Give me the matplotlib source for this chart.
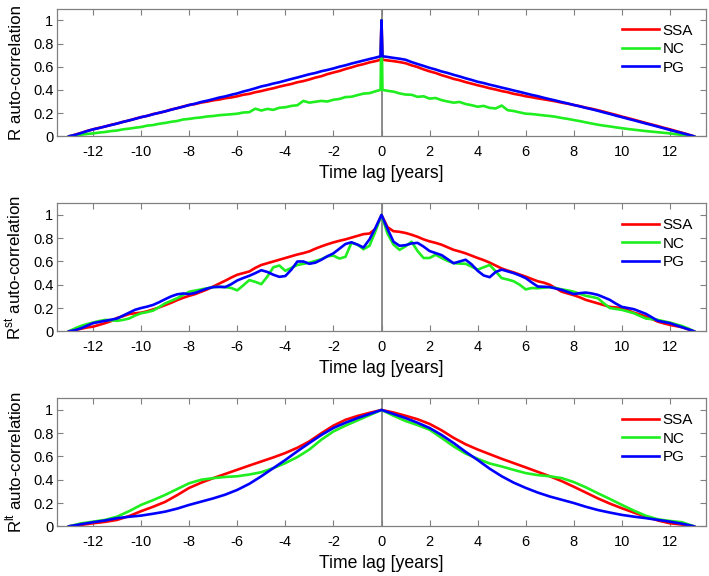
import numpy as np
import matplotlib
matplotlib.use("Agg")
import matplotlib.pyplot as plt

plt.rcParams['font.family'] = ['Liberation Sans', 'DejaVu Sans']
plt.rcParams['mathtext.fontset'] = 'custom'
plt.rcParams['mathtext.rm'] = 'Liberation Sans'

# ---------------- data ----------------
series_names = ["SSA", "NC", "PG"]
series_colors = ["#ff0000", "#1fee1f", "#0000ff"]

# Panel 1 (raw R): lags in years, 0.25-year steps plus the lag-0 spike
lags_r = ([-13 + 0.25 * i for i in range(52)] + [-0.04, 0.0, 0.04]
          + [0.25 + 0.25 * i for i in range(52)])

r_ssa = [0.000, 0.014, 0.029, 0.046, 0.060, 0.073, 0.084, 0.099,
         0.110, 0.125, 0.136, 0.152, 0.165, 0.176, 0.192, 0.202,
         0.215, 0.231, 0.242, 0.257, 0.270, 0.278, 0.291, 0.299,
         0.310, 0.317, 0.328, 0.335, 0.345, 0.358, 0.366, 0.380,
         0.390, 0.403, 0.414, 0.428, 0.440, 0.451, 0.466, 0.476,
         0.490, 0.506, 0.518, 0.536, 0.550, 0.563, 0.580, 0.594,
         0.610, 0.622, 0.637, 0.648,
         0.660, 1.000, 0.660,
         0.654, 0.648, 0.640,
         0.630, 0.612, 0.597, 0.577, 0.560, 0.546, 0.527, 0.512,
         0.495, 0.483, 0.467, 0.454, 0.440, 0.428, 0.414, 0.403,
         0.390, 0.380, 0.366, 0.357, 0.345, 0.337, 0.327, 0.319,
         0.310, 0.301, 0.290, 0.281, 0.270, 0.260, 0.247, 0.237,
         0.225, 0.212, 0.198, 0.185, 0.170, 0.157, 0.143, 0.129,
         0.115, 0.101, 0.088, 0.073, 0.060, 0.045, 0.031, 0.016,
         0.000]

r_nc = [0.000, 0.008, 0.014, 0.020, 0.025, 0.032, 0.037, 0.045,
        0.050, 0.060, 0.066, 0.074, 0.080, 0.092, 0.097, 0.108,
        0.115, 0.125, 0.132, 0.145, 0.150, 0.158, 0.163, 0.171,
        0.175, 0.182, 0.186, 0.190, 0.195, 0.205, 0.208, 0.238,
        0.222, 0.236, 0.228, 0.246, 0.250, 0.262, 0.268, 0.305,
        0.290, 0.298, 0.305, 0.300, 0.315, 0.322, 0.338, 0.341,
        0.355, 0.368, 0.372, 0.388,
        0.400, 1.000, 0.400,
        0.392, 0.385, 0.370,
        0.360, 0.358, 0.340, 0.345, 0.325, 0.330, 0.312, 0.300,
        0.290, 0.296, 0.278, 0.268, 0.255, 0.262, 0.245, 0.240,
        0.265, 0.225, 0.218, 0.206, 0.195, 0.192, 0.186, 0.180,
        0.175, 0.168, 0.158, 0.150, 0.140, 0.131, 0.120, 0.110,
        0.100, 0.092, 0.085, 0.077, 0.070, 0.063, 0.057, 0.051,
        0.045, 0.040, 0.035, 0.030, 0.025, 0.018, 0.012, 0.006,
        0.000]

r_pg = [0.000, 0.012, 0.028, 0.045, 0.060, 0.071, 0.085, 0.097,
        0.110, 0.124, 0.137, 0.150, 0.165, 0.176, 0.190, 0.203,
        0.215, 0.229, 0.243, 0.255, 0.270, 0.281, 0.296, 0.307,
        0.320, 0.334, 0.344, 0.358, 0.370, 0.386, 0.399, 0.414,
        0.430, 0.441, 0.455, 0.466, 0.480, 0.494, 0.507, 0.521,
        0.535, 0.546, 0.561, 0.572, 0.585, 0.600, 0.612, 0.627,
        0.640, 0.653, 0.666, 0.678,
        0.690, 1.000, 0.690,
        0.684, 0.676, 0.669,
        0.660, 0.640, 0.623, 0.607, 0.590, 0.576, 0.559, 0.546,
        0.530, 0.516, 0.500, 0.486, 0.470, 0.459, 0.445, 0.433,
        0.420, 0.408, 0.395, 0.383, 0.370, 0.357, 0.346, 0.332,
        0.320, 0.308, 0.295, 0.283, 0.270, 0.258, 0.245, 0.233,
        0.220, 0.206, 0.193, 0.178, 0.165, 0.151, 0.138, 0.124,
        0.110, 0.097, 0.083, 0.069, 0.055, 0.041, 0.028, 0.014,
        0.000]

# Panel 2 (short-term R^st): 0.25-year steps
lags_st = [-13 + 0.25 * i for i in range(105)]

st_ssa = [0.000, 0.010, 0.022, 0.033, 0.040, 0.055, 0.070, 0.088,
          0.115, 0.130, 0.148, 0.155, 0.160, 0.172, 0.188, 0.205,
          0.225, 0.245, 0.268, 0.288, 0.305, 0.320, 0.340, 0.360,
          0.385, 0.410, 0.435, 0.462, 0.486, 0.500, 0.514, 0.545,
          0.570, 0.585, 0.600, 0.615, 0.630, 0.645, 0.660, 0.672,
          0.687, 0.710, 0.730, 0.748, 0.764, 0.778, 0.790, 0.805,
          0.820, 0.835, 0.840, 0.880,
          1.000,
          0.895, 0.860, 0.855,
          0.845, 0.830, 0.812, 0.790, 0.773, 0.760, 0.744, 0.722,
          0.700, 0.686, 0.670, 0.650, 0.630, 0.612, 0.590, 0.565,
          0.540, 0.522, 0.506, 0.488, 0.470, 0.450, 0.430, 0.418,
          0.400, 0.370, 0.340, 0.325, 0.310, 0.292, 0.270, 0.255,
          0.240, 0.225, 0.210, 0.205, 0.200, 0.180, 0.160, 0.145,
          0.126, 0.105, 0.083, 0.068, 0.055, 0.045, 0.035, 0.018,
          0.000]

st_nc = [0.000, 0.025, 0.046, 0.062, 0.075, 0.088, 0.098, 0.095,
         0.090, 0.098, 0.110, 0.135, 0.155, 0.165, 0.178, 0.208,
         0.240, 0.262, 0.284, 0.312, 0.340, 0.350, 0.360, 0.370,
         0.380, 0.382, 0.380, 0.372, 0.352, 0.395, 0.440, 0.425,
         0.405, 0.470, 0.550, 0.565, 0.520, 0.545, 0.570, 0.580,
         0.590, 0.605, 0.620, 0.645, 0.650, 0.625, 0.640, 0.760,
         0.745, 0.705, 0.735, 0.860,
         1.000,
         0.840, 0.745, 0.700,
         0.730, 0.770, 0.690, 0.630, 0.630, 0.658, 0.630, 0.605,
         0.586, 0.582, 0.580, 0.555, 0.530, 0.550, 0.570, 0.515,
         0.457, 0.445, 0.430, 0.400, 0.360, 0.372, 0.370, 0.375,
         0.380, 0.372, 0.360, 0.352, 0.340, 0.322, 0.305, 0.295,
         0.284, 0.240, 0.200, 0.192, 0.184, 0.170, 0.155, 0.132,
         0.110, 0.104, 0.098, 0.086, 0.075, 0.060, 0.046, 0.025,
         0.000]

st_pg = [0.000, 0.010, 0.026, 0.048, 0.070, 0.080, 0.090, 0.100,
         0.110, 0.135, 0.160, 0.185, 0.200, 0.212, 0.227, 0.250,
         0.276, 0.300, 0.318, 0.325, 0.320, 0.330, 0.350, 0.368,
         0.380, 0.382, 0.380, 0.405, 0.437, 0.458, 0.477, 0.500,
         0.525, 0.510, 0.486, 0.468, 0.475, 0.530, 0.600, 0.600,
         0.580, 0.590, 0.615, 0.645, 0.670, 0.710, 0.750, 0.765,
         0.745, 0.720, 0.790, 0.890,
         1.000,
         0.880, 0.770, 0.735,
         0.740, 0.755, 0.760, 0.728, 0.690, 0.672, 0.655, 0.620,
         0.585, 0.600, 0.615, 0.575, 0.520, 0.480, 0.465, 0.510,
         0.530, 0.515, 0.500, 0.480, 0.457, 0.420, 0.385, 0.383,
         0.380, 0.368, 0.356, 0.338, 0.320, 0.328, 0.333, 0.325,
         0.313, 0.292, 0.270, 0.238, 0.210, 0.200, 0.190, 0.170,
         0.150, 0.120, 0.090, 0.080, 0.070, 0.052, 0.035, 0.018,
         0.000]

# Panel 3 (long-term R^lt): 0.5-year steps
lags_lt = [-13 + 0.5 * i for i in range(53)]

lt_ssa = [0.000, 0.012, 0.026, 0.038, 0.055, 0.088, 0.130, 0.168, 0.210,
          0.268, 0.330, 0.375, 0.414, 0.450, 0.486, 0.522, 0.557, 0.592,
          0.630, 0.675, 0.730, 0.800, 0.865, 0.915, 0.948, 0.975,
          1.000,
          0.978, 0.950, 0.920, 0.880, 0.825, 0.760, 0.705, 0.660, 0.620,
          0.580, 0.543, 0.506, 0.468, 0.430, 0.388, 0.340, 0.290, 0.240,
          0.195, 0.155, 0.118, 0.083, 0.050, 0.026, 0.015, 0.000]

lt_nc = [0.000, 0.025, 0.040, 0.055, 0.083, 0.130, 0.184, 0.225, 0.270,
         0.320, 0.370, 0.400, 0.414, 0.424, 0.430, 0.445, 0.465, 0.500,
         0.543, 0.595, 0.660, 0.745, 0.815, 0.865, 0.910, 0.955,
         1.000,
         0.950, 0.905, 0.870, 0.830, 0.760, 0.687, 0.625, 0.580, 0.540,
         0.514, 0.485, 0.457, 0.440, 0.430, 0.414, 0.380, 0.335, 0.284,
         0.235, 0.184, 0.135, 0.090, 0.060, 0.046, 0.035, 0.000]

lt_pg = [0.000, 0.018, 0.035, 0.050, 0.070, 0.082, 0.092, 0.108, 0.126,
         0.152, 0.184, 0.212, 0.240, 0.272, 0.313, 0.365, 0.430, 0.500,
         0.570, 0.645, 0.716, 0.785, 0.845, 0.890, 0.930, 0.965,
         1.000,
         0.965, 0.930, 0.890, 0.845, 0.785, 0.716, 0.640, 0.570, 0.495,
         0.430, 0.375, 0.330, 0.290, 0.256, 0.228, 0.200, 0.168, 0.140,
         0.118, 0.098, 0.083, 0.070, 0.055, 0.040, 0.022, 0.000]

x_ticks = [-12, -10, -8, -6, -4, -2, 0, 2, 4, 6, 8, 10, 12]
x_ticklabels = ["-12", "-10", "-8", "-6", "-4", "-2", "0", "2", "4", "6", "8", "10", "12"]
y_ticks = [0, 0.2, 0.4, 0.6, 0.8, 1.0]
y_ticklabels = ["0", "0.2", "0.4", "0.6", "0.8", "1"]
y_labels = ["R auto-correlation",
            r"R$^{\mathrm{st}}$ auto-correlation",
            r"R$^{\mathrm{lt}}$ auto-correlation"]
x_label = "Time lag [years]"

panels = [
    (lags_r, [r_ssa, r_nc, r_pg]),
    (lags_st, [st_ssa, st_nc, st_pg]),
    (lags_lt, [lt_ssa, lt_nc, lt_pg]),
]

# ---------------- figure ----------------
W, H = 709, 576
fig = plt.figure(figsize=(W / 100, H / 100), dpi=100)

frame_col = "#808080"
boxes_px = [(8.7, 136.3), (203.3, 331.3), (398.3, 526.3)]
left_px, right_px = 57, 706

for (top, bot), (lags, vals), ylab in zip(boxes_px, panels, y_labels):
    ax = fig.add_axes([left_px / W, 1 - bot / H, (right_px - left_px) / W, (bot - top) / H])
    ax.axvline(0, color="#8c8c8c", lw=1.4, zorder=1)
    for name, col, v in zip(series_names, series_colors, vals):
        ax.plot(lags, v, color=col, lw=1.9, label=name, zorder=2)
    ax.set_xlim(-13.5, 13.5)
    ax.set_ylim(0, 1.1)
    ax.set_xticks(x_ticks)
    ax.set_xticklabels(x_ticklabels)
    ax.set_yticks(y_ticks)
    ax.set_yticklabels(y_ticklabels)
    ax.tick_params(direction="in", top=True, right=True, length=4.3, width=0.8,
                   color=frame_col, labelsize=10.5, labelcolor="black")
    ax.tick_params(axis="x", pad=6.5)
    ax.tick_params(axis="y", pad=2.7)
    for s in ax.spines.values():
        s.set_color(frame_col)
        s.set_linewidth(0.9)
    ax.set_xlabel(x_label, fontsize=12.7, labelpad=4)
    ax.set_ylabel(ylab, fontsize=12.2)
    ax.yaxis.set_label_coords(-0.051, 0.5)
    ax.legend(loc="upper left", bbox_to_anchor=(0.871, 0.884), frameon=False,
              fontsize=11, handlelength=2.4, handletextpad=0.25,
              labelspacing=0.3, borderpad=0, borderaxespad=0)

fig.savefig("out.png", dpi=100, facecolor="white")
